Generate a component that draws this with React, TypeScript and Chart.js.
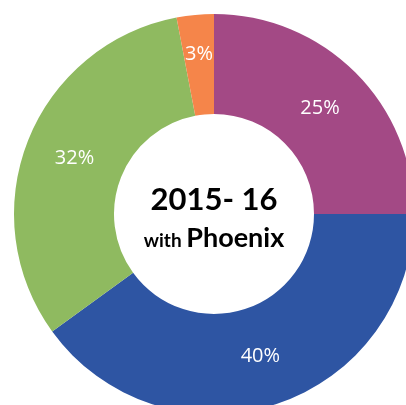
import React, { useEffect, useRef } from "react";
import { Chart, registerables } from "chart.js";

Chart.register(...registerables);

const categories = ["A", "B", "C", "D"];
const values = [25, 40, 32, 3];
const labels = ["25%", "40%", "32%", "3%"];
const colors = ["#A34985", "#2E55A3", "#8FBA60", "#F5854A"];
const titleLine1 = "2015- 16";
const titleWith = "with";
const titleName = "Phoenix";

const labelPlugin = {
  id: "sliceLabels",
  afterDatasetsDraw(chart: any) {
    const ctx = chart.ctx;
    const meta = chart.getDatasetMeta(0);
    ctx.save();
    ctx.fillStyle = "#ffffff";
    ctx.font = "20px 'Open Sans', sans-serif";
    ctx.textAlign = "center";
    ctx.textBaseline = "middle";
    meta.data.forEach((arc: any, i: number) => {
      const p = arc.getProps(["x", "y", "startAngle", "endAngle", "innerRadius", "outerRadius"], true);
      const mid = (p.startAngle + p.endAngle) / 2;
      const span = p.endAngle - p.startAngle;
      const frac = span < 0.3 ? 0.6 : 0.5;
      const r = p.innerRadius + (p.outerRadius - p.innerRadius) * frac;
      ctx.fillText(labels[i], p.x + Math.cos(mid) * r, p.y + Math.sin(mid) * r);
    });
    // center text
    const cx = meta.data[0].x;
    const cy = meta.data[0].y;
    ctx.fillStyle = "#000000";
    ctx.textBaseline = "alphabetic";
    ctx.font = "bold 31px Lato, 'Open Sans', sans-serif";
    ctx.fillText(titleLine1, cx, cy - 4);
    ctx.font = "bold 19px Lato, sans-serif";
    const w1 = ctx.measureText(titleWith + " ").width;
    ctx.font = "bold 27px Lato, sans-serif";
    const w2 = ctx.measureText(titleName).width;
    const startX = cx - (w1 + w2) / 2;
    ctx.textAlign = "left";
    ctx.font = "bold 19px Lato, sans-serif";
    ctx.fillText(titleWith, startX, cy + 33);
    ctx.font = "bold 27px Lato, sans-serif";
    ctx.fillText(titleName, startX + w1, cy + 33);
    ctx.restore();
  },
};

export default function App() {
  const ref = useRef<HTMLCanvasElement>(null);
  useEffect(() => {
    document.body.style.margin = "0";
    const chart = new Chart(ref.current!, {
      type: "doughnut",
      data: {
        labels: categories,
        datasets: [
          {
            data: values,
            backgroundColor: colors,
            borderWidth: 0,
          },
        ],
      },
      options: {
        responsive: false,
        animation: false,
        cutout: "50%",
        layout: { padding: 14 },
        plugins: { legend: { display: false }, tooltip: { enabled: false } },
      },
      plugins: [labelPlugin],
    });
    return () => chart.destroy();
  }, []);
  return (
    <div style={{ position: "absolute", left: 0, top: 0, width: 406, height: 405, overflow: "hidden", background: "#fff" }}>
      <canvas ref={ref} width={428} height={428} style={{ width: 428, height: 428 }} />
    </div>
  );
}
